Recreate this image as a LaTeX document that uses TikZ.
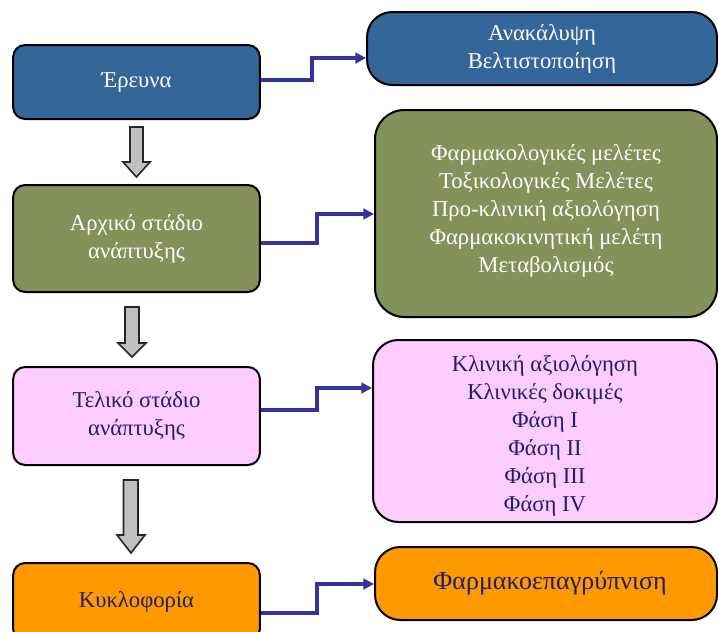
\documentclass[tikz,border=0pt]{standalone}
\usepackage{fontspec}
\setmainfont{Liberation Serif}
\usetikzlibrary{arrows.meta}

\definecolor{boxblue}{RGB}{52,102,153}
\definecolor{boxgreen}{RGB}{131,145,90}
\definecolor{boxpink}{RGB}{255,204,255}
\definecolor{boxorange}{RGB}{255,153,0}
\definecolor{navytext}{RGB}{30,30,115}
\definecolor{linkblue}{RGB}{51,51,160}
\definecolor{arrowgray}{RGB}{192,192,192}

\tikzset{
    stage/.style={draw=black, line width=1.5pt, rounded corners=9pt,
        minimum width=185pt, align=center,
        font=\fontsize{17}{21}\selectfont},
    detail/.style={draw=black, line width=1.5pt, rounded corners=19pt,
        align=center, font=\fontsize{17}{21}\selectfont},
    link/.style={draw=linkblue, line width=2.3pt,
        -{Triangle[length=8pt,width=8pt]}},
    garrow/.style={draw=black!85, fill=arrowgray, line width=1.2pt, line join=miter}
}

\begin{document}
\begin{tikzpicture}[x=0.75pt, y=-0.75pt]
    \useasboundingbox (0,0) rectangle (718,632);
    \clip (0,0) rectangle (718,632);

    % left column
    \node[stage, fill=boxblue, text=white, minimum height=55.5pt] (erevna) at (136.5,82) {Έρευνα};
    \node[stage, fill=boxgreen, text=white, minimum height=80.25pt] (archiko) at (136.5,238.5) {Αρχικό στάδιο\\ανάπτυξης};
    \node[stage, fill=boxpink, text=navytext, minimum height=73.5pt] (teliko) at (136.5,416) {Τελικό στάδιο\\ανάπτυξης};
    \node[stage, fill=boxorange, text=navytext, minimum height=58.5pt] (kykl) at (136.5,602) {Κυκλοφορία};

    % right column
    \node[detail, fill=boxblue, text=white, minimum width=262.5pt, minimum height=54.75pt] (anak) at (542,48.5) {Ανακάλυψη\\Βελτιστοποίηση};
    \node[detail, fill=boxgreen, text=white, rounded corners=22pt, minimum width=256.5pt, minimum height=155.25pt] (meletes) at (546,213.5)
        {Φαρμακολογικές μελέτες\\Τοξικολογικές Μελέτες\\Προ-κλινική αξιολόγηση\\Φαρμακοκινητική μελέτη\\Μεταβολισμός\\[-13pt]\mbox{}};
    \node[detail, fill=boxpink, text=navytext, minimum width=258pt, minimum height=136.5pt] (klin) at (545,431)
        {\mbox{}\\[-1pt]Κλινική αξιολόγηση\\Κλινικές δοκιμές\\Φάση Ι\\Φάση ΙΙ\\Φάση ΙΙΙ\\Φάση ΙV};
    \node[detail, fill=boxorange, text=navytext, minimum width=256.5pt, minimum height=54.75pt,
        font=\fontsize{19.5}{23}\selectfont] (farmako) at (546,583.5) {\hspace*{6pt}Φαρμακοεπαγρύπνιση};

    % gray block arrows
    \draw[garrow] (130,127) -- (143,127) -- (143,162) -- (150,162) -- (136.5,177) -- (123,162) -- (130,162) -- cycle;
    \draw[garrow] (125,307) -- (139,307) -- (139,343) -- (146,343) -- (132,357) -- (118,343) -- (125,343) -- cycle;
    \draw[garrow] (123.5,480) -- (138,480) -- (138,535) -- (145,535) -- (131,553) -- (117,535) -- (123.5,535) -- cycle;

    % blue connectors
    \draw[link] (erevna.east |- 0,80) -| (312,58) -- (anak.west |- 0,58);
    \draw[link] (archiko.east |- 0,243) -| (317,214) -- (meletes.west |- 0,214);
    \draw[link] (teliko.east |- 0,410) -| (317,388) -- (klin.west |- 0,388);
    \draw[link] (kykl.east |- 0,613) -| (317,584) -- (farmako.west |- 0,584);
\end{tikzpicture}
\end{document}
